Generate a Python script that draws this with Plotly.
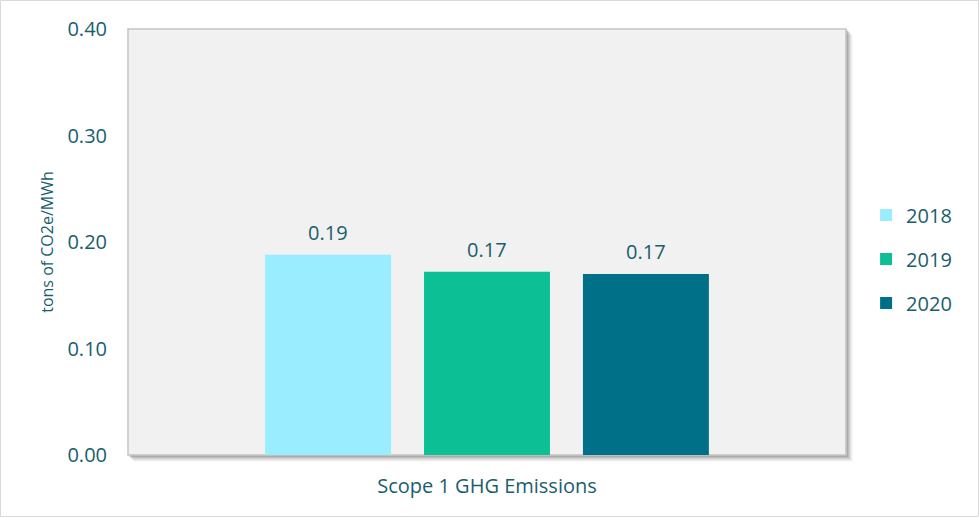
import plotly.graph_objects as go

# Scope 1 GHG emission intensity by year (tons of CO2e per MWh)
categories = ["Scope 1 GHG Emissions"]
years = ["2018", "2019", "2020"]
values = {
    "2018": [0.188],
    "2019": [0.172],
    "2020": [0.170],
}
colors = {"2018": "#99EDFF", "2019": "#0DBF94", "2020": "#007088"}
y_ticks = [0.0, 0.1, 0.2, 0.3, 0.4]

TEXT = "#195E6D"
FONT = "Open Sans, Noto Sans, sans-serif"
FS = 20

W, H = 979, 517
ML, MR, MT, MB = 128, 133, 29, 62
PW, PH = W - ML - MR, H - MT - MB
BARGAP = 0.336
BARGROUPGAP = 0.2075

fig = go.Figure()
for yr in years:
    fig.add_trace(go.Bar(
        name=yr,
        x=categories,
        y=values[yr],
        marker=dict(color=colors[yr], line=dict(width=0)),
        legendgroup=yr,
        hovertemplate="%{x}<br>" + yr + ": %{y:.2f}<extra></extra>",
    ))


def px_x(p):
    return (p - ML) / PW


def px_y(p):
    return (H - MB - p) / PH


# value labels above each bar, offset to the bar's slot within the group
slot = PW * (1 - BARGAP) / len(years)
annotations = []
for i, yr in enumerate(years):
    for cat, v in zip(categories, values[yr]):
        annotations.append(dict(
            x=cat, y=v, xref="x", yref="y",
            text=f"{v:.2f}", showarrow=False,
            xshift=(i - (len(years) - 1) / 2) * slot,
            yanchor="middle", yshift=22,
            font=dict(color=TEXT, size=FS, family=FONT),
        ))

shapes = []
# soft drop shadow under the plot area (offset right and down)
for off, op in [(7, 0.05), (6, 0.08), (5, 0.12), (4, 0.16), (3, 0.22), (2, 0.28)]:
    shapes.append(dict(
        type="rect", xref="paper", yref="paper", layer="below",
        x0=px_x(ML + off - 1), x1=px_x(ML + PW + off),
        y0=px_y(H - MB + off), y1=px_y(MT + off - 1),
        fillcolor="#7f7f7f", opacity=op, line=dict(width=0),
    ))
# plot area fill with frame
shapes.append(dict(
    type="rect", xref="paper", yref="paper", layer="below",
    x0=0, x1=1, y0=0, y1=1,
    line=dict(color="#C4C4C4", width=1.5), fillcolor="#F1F1F1",
))
# outer chart border
shapes.append(dict(
    type="rect", xref="paper", yref="paper", layer="above",
    x0=px_x(0.5), x1=px_x(W - 0.5), y0=px_y(H - 0.5), y1=px_y(0.5),
    line=dict(color="#D9D9D9", width=1), fillcolor="rgba(0,0,0,0)",
))

fig.update_layout(
    width=W, height=H,
    margin=dict(l=ML, r=MR, t=MT, b=MB, pad=0),
    paper_bgcolor="white",
    plot_bgcolor="rgba(0,0,0,0)",
    font=dict(family=FONT, color=TEXT, size=FS),
    barmode="group",
    bargap=BARGAP,
    bargroupgap=BARGROUPGAP,
    showlegend=True,
    legend=dict(
        x=1.028, xanchor="left", y=0.46, yanchor="middle",
        font=dict(size=FS, color=TEXT, family=FONT),
        tracegroupgap=15,
        traceorder="grouped",
        bgcolor="rgba(0,0,0,0)",
        itemwidth=30,
    ),
    shapes=shapes,
    annotations=annotations,
)

fig.update_xaxes(
    showgrid=False, zeroline=False, showline=False,
    ticks="", tickfont=dict(size=FS, color=TEXT, family=FONT),
    ticklabelstandoff=17,
)
fig.update_yaxes(
    range=[0, 0.4],
    tickvals=y_ticks,
    tickformat=".2f",
    showgrid=False, zeroline=False, showline=False,
    ticks="", tickfont=dict(size=FS, color=TEXT, family=FONT),
    ticklabelstandoff=20,
    title=dict(text="tons of CO2e/MWh", font=dict(size=16, color=TEXT, family=FONT), standoff=9),
)

fig.write_html("out.html")
